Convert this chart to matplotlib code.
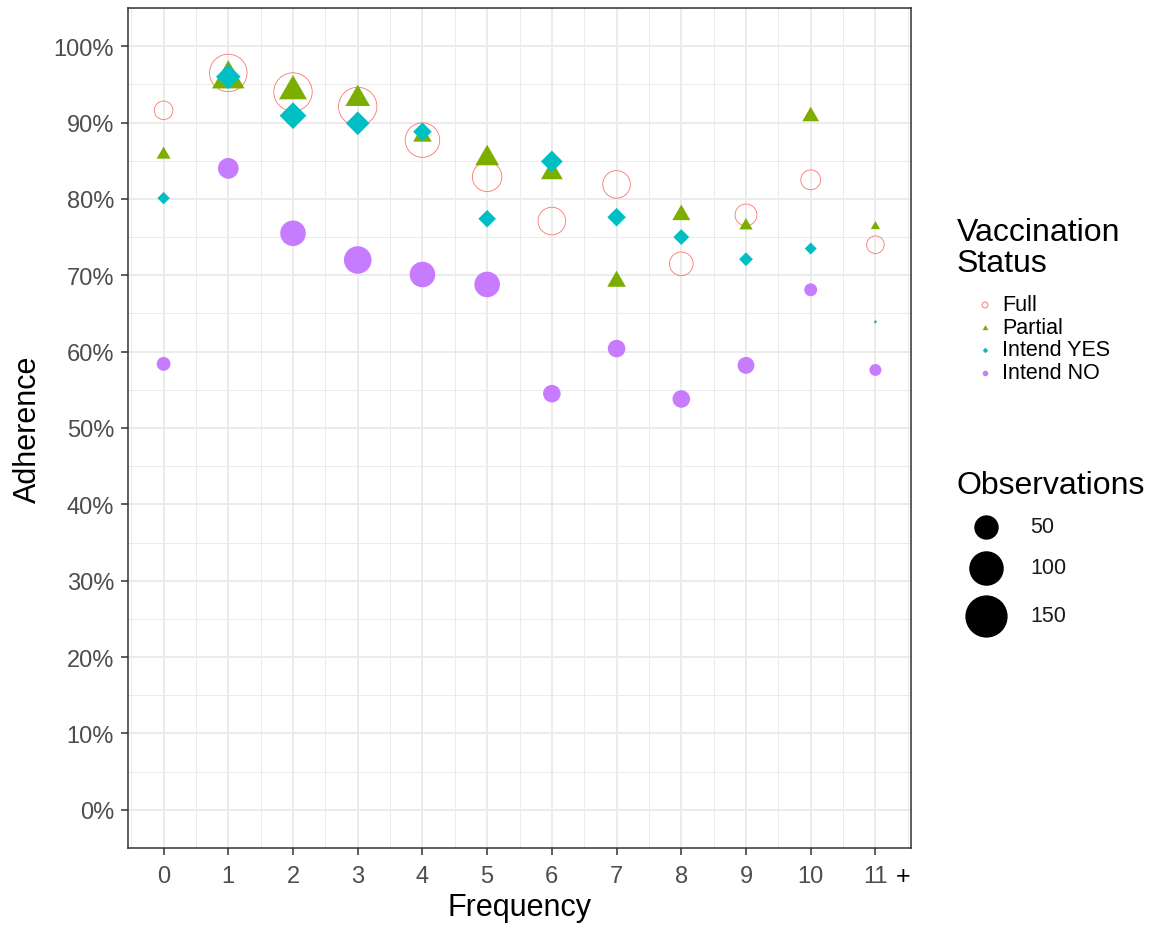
import matplotlib
matplotlib.use("Agg")
import matplotlib.pyplot as plt
import numpy as np
from matplotlib.path import Path
from matplotlib.ticker import MultipleLocator, FuncFormatter

plt.rcParams['font.family'] = ['Liberation Sans', 'DejaVu Sans']

# ---------------- data ----------------
frequency = [0, 1, 2, 3, 4, 5, 6, 7, 8, 9, 10, 11]
freq_labels = ["0", "1", "2", "3", "4", "5", "6", "7", "8", "9", "10", "11"]

full_adh = [91.6, 96.5, 94.0, 92.1, 87.7, 82.9, 77.1, 81.9, 71.5, 77.9, 82.5, 74.0]
full_obs = [29, 118, 124, 124, 100, 73, 64, 64, 47, 40, 33, 26]

partial_adh = [85.8, 95.7, 94.1, 93.1, 88.2, 85.3, 83.4, 69.2, 77.9, 76.5, 90.8, 76.4]
partial_obs = [9, 49, 36, 28, 16, 26, 22, 16, 15, 8, 13, 4]

yes_adh = [80.1, 96.0, 90.9, 89.9, 88.8, 77.4, 84.9, 77.6, 75.0, 72.1, 73.5, 63.9]
yes_obs = [13, 51, 60, 47, 29, 26, 40, 29, 21, 16, 12, 1]

no_adh = [58.4, 84.0, 75.5, 72.0, 70.1, 68.8, 54.5, 60.4, 53.8, 58.2, 68.1, 57.6]
no_obs = [16, 36, 55, 64, 55, 55, 26, 26, 26, 24, 14, 12]

status_labels = ["Full", "Partial", "Intend YES", "Intend NO"]
status_colors = ["#F8766D", "#7CAE00", "#00BFC4", "#C77CFF"]
size_breaks = [50, 100, 150]

# ---------------- helpers ----------------
DPI = 100
def diam_pt(v):
    # marker diameter (points) from number of observations (area scale)
    return 3.45 * np.sqrt(np.asarray(v, dtype=float)) * 72.0 / DPI

tri = Path([(0, 1), (-np.sqrt(3) / 2, -0.5), (np.sqrt(3) / 2, -0.5), (0, 1)],
           [Path.MOVETO, Path.LINETO, Path.LINETO, Path.CLOSEPOLY])
dia = Path([(0, 1), (1, 0), (0, -1), (-1, 0), (0, 1)],
           [Path.MOVETO, Path.LINETO, Path.LINETO, Path.LINETO, Path.CLOSEPOLY])

# scale factors so shapes match R pch 17 / 18 relative to circles
TRI_F = 1.35 / (np.sqrt(3) / 2)
DIA_F = 1.0

fig = plt.figure(figsize=(11.54, 9.28), dpi=DPI)
ax = fig.add_axes([128 / 1154, 1 - 849 / 928, (911 - 128) / 1154, (849 - 9) / 928])

# series
ax.scatter(frequency, full_adh, s=diam_pt(full_obs) ** 2, marker='o',
           facecolors='none', edgecolors=status_colors[0], linewidths=0.6, zorder=3)
ax.scatter(frequency, partial_adh, s=(diam_pt(partial_obs) * TRI_F) ** 2, marker=tri,
           c=status_colors[1], linewidths=0, zorder=4)
ax.scatter(frequency, yes_adh, s=(diam_pt(yes_obs) * DIA_F) ** 2, marker=dia,
           c=status_colors[2], linewidths=0, zorder=5)
ax.scatter(frequency, no_adh, s=diam_pt(no_obs) ** 2, marker='o',
           c=status_colors[3], linewidths=0, zorder=6)

# axes
ax.set_xlim(-0.55, 11.55)
ax.set_ylim(-5, 105)
ax.set_xticks(frequency)
ax.set_xticklabels(freq_labels)
ax.xaxis.set_minor_locator(MultipleLocator(0.5))
ax.yaxis.set_major_locator(MultipleLocator(10))
ax.yaxis.set_minor_locator(MultipleLocator(5))
ax.yaxis.set_major_formatter(FuncFormatter(lambda v, p: f"{v:.0f}%"))

ax.grid(which='major', color='#EBEBEB', linewidth=1.4, zorder=0)
ax.grid(which='minor', color='#EBEBEB', linewidth=0.7, zorder=0)
ax.set_axisbelow(True)
for sp in ax.spines.values():
    sp.set_color('#333333')
    sp.set_linewidth(1.1)
ax.tick_params(which='major', length=5, width=1.1, color='#333333',
               labelsize=17, labelcolor='#4D4D4D')
ax.tick_params(axis='x', which='major', pad=7)
ax.tick_params(axis='y', which='major', pad=5)
ax.tick_params(which='minor', length=0)

ax.set_xlabel("Frequency", fontsize=22, labelpad=4)
ax.set_ylabel("Adherence", fontsize=22, labelpad=8)

# the "+" after 11
ax.text(11.42, -0.0335, "+", transform=ax.get_xaxis_transform(), ha='center',
        va='center', fontsize=18, color='black', clip_on=False)

# ---------------- legends (overlay in pixel coordinates) ----------------
lg = fig.add_axes([0, 0, 1, 1], facecolor='none')
lg.set_xlim(0, 1154)
lg.set_ylim(928, 0)
lg.axis('off')

lg.text(957, 233, "Vaccination", fontsize=23, ha='left', va='center')
lg.text(957, 264, "Status", fontsize=23, ha='left', va='center')
ys = [306, 329, 351, 374]
key_markers = ['o', tri, dia, 'o']
for i, (lab, col, mk, y) in enumerate(zip(status_labels, status_colors, key_markers, ys)):
    if i == 0:
        lg.scatter([985], [y], s=18, marker=mk, facecolors='none',
                   edgecolors=col, linewidths=0.7)
    else:
        lg.scatter([985], [y], s=24 if i == 1 else 16, marker=mk, c=col, linewidths=0)
    lg.text(1002, y, lab, fontsize=15.5, ha='left', va='center')

lg.text(957, 486, "Observations", fontsize=23, ha='left', va='center')
size_ys = [528, 569, 617]
for v, y in zip(size_breaks, size_ys):
    lg.scatter([986], [y], s=diam_pt(v) ** 2, marker='o', c='black', linewidths=0)
    lg.text(1030, y, str(v), fontsize=15.5, ha='left', va='center', color='#1A1A1A')

fig.savefig("out.png", dpi=DPI)
